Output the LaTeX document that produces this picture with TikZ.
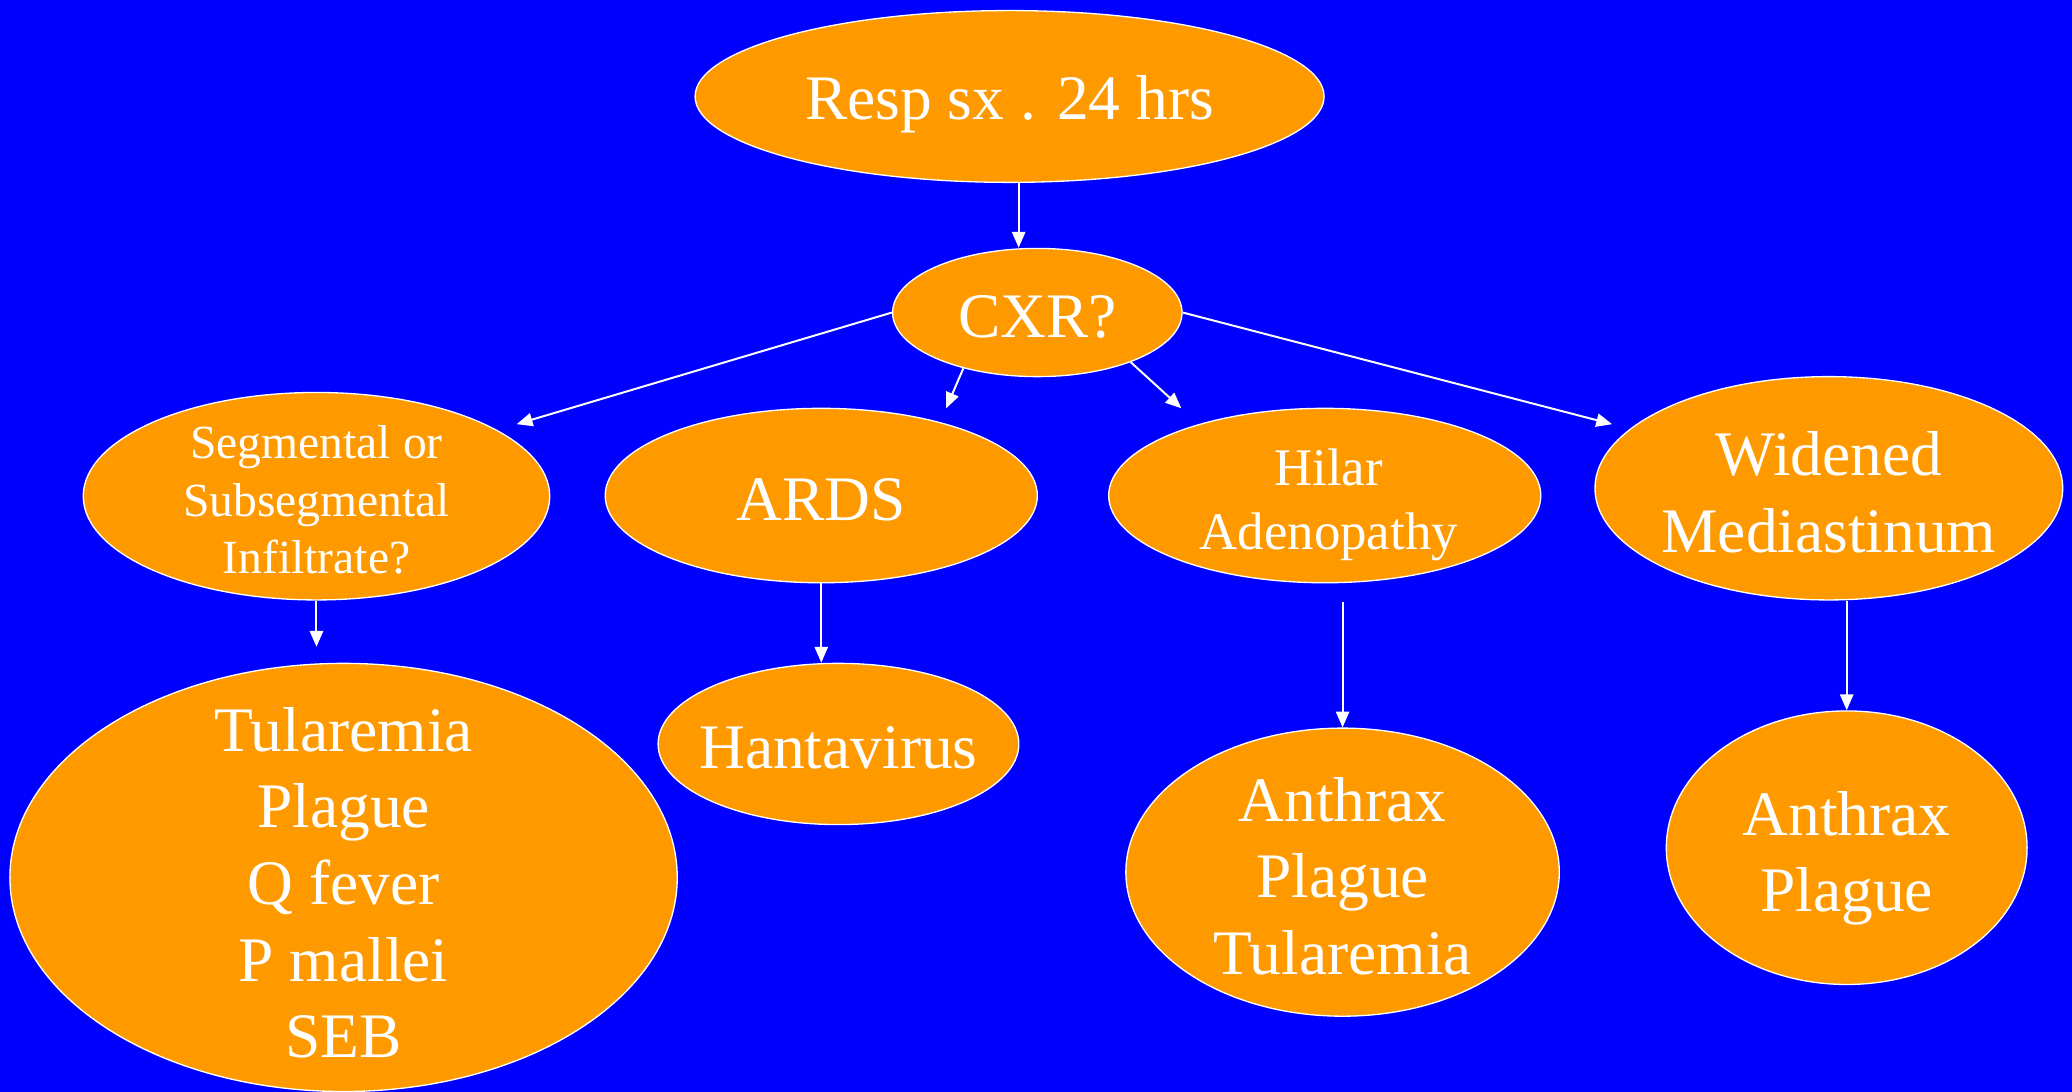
\documentclass[tikz,border=0pt]{standalone}
\usepackage{fontspec}
\setmainfont{Liberation Serif}
\newfontfamily\ovalfont{Liberation Serif}
\usetikzlibrary{shapes.geometric,arrows.meta}
\definecolor{bgblue}{HTML}{0000FF}
\definecolor{boxorange}{HTML}{FF9900}
\begin{document}
\begin{tikzpicture}[x=1bp,y=-1bp,
  oval/.style={ellipse, fill=boxorange, draw=white, line width=1bp, inner sep=0pt},
  txt/.style={text=white, align=center, inner sep=0pt},
  link/.style={draw=white, line width=1.5bp,
    -{Triangle[length=12bp,width=10bp]}},
  big/.style={font=\ovalfont\fontsize{48bp}{58bp}\selectfont},
  mid/.style={font=\ovalfont\fontsize{40bp}{48bp}\selectfont},
  small/.style={font=\ovalfont\fontsize{36bp}{43.5bp}\selectfont}]

% background
\fill[bgblue] (0,0) rectangle (1568,826);
\useasboundingbox (0,0) rectangle (1568,826);

% ovals
\node[oval, minimum width=476bp, minimum height=130bp] (resp) at (764,73) {};
\node[oval, minimum width=219bp, minimum height=97bp] (cxr) at (785,236.5) {};
\node[oval, minimum width=353bp, minimum height=157bp] (seg) at (239.5,375.5) {};
\node[oval, minimum width=327bp, minimum height=132bp] (ards) at (621.5,375) {};
\node[oval, minimum width=327bp, minimum height=132bp] (hilar) at (1002.5,375) {};
\node[oval, minimum width=354bp, minimum height=169bp] (wide) at (1384,369.5) {};
\node[oval, minimum width=505bp, minimum height=324bp] (dxseg) at (260,664) {};
\node[oval, minimum width=273bp, minimum height=122bp] (hanta) at (634.5,563) {};
\node[oval, minimum width=328bp, minimum height=218bp] (dxhilar) at (1016,660) {};
\node[oval, minimum width=273bp, minimum height=207bp] (dxwide) at (1397.5,641.5) {};

% labels
\node[txt, big] (resptxt) at ([yshift=-6bp]resp.center) {Resp sx . 24 hrs};
\node[txt, big] (cxrtxt) at ([yshift=-3bp]cxr.center) {CXR?};
\node[txt, small] (segtxt) at ([yshift=-3bp]seg.center) {Segmental or\\Subsegmental\\Infiltrate?};
\node[txt, big] (ardstxt) at ([yshift=-3bp]ards.center) {ARDS};
\node[txt, mid] (hilartxt) at ([xshift=3bp,yshift=-7bp]hilar.center) {Hilar\\Adenopathy};
\node[txt, big] (widetxt) at ([yshift=-3bp]wide.center) {Widened\\Mediastinum};
\node[txt, big] (dxsegtxt) at ([yshift=-4bp]dxseg.center) {Tularemia\\Plague\\Q fever\\P mallei\\SEB};
\node[txt, big] (hantatxt) at ([yshift=-3bp]hanta.center) {Hantavirus};
\node[txt, big] (dxhilartxt) at ([yshift=-3bp]dxhilar.center) {Anthrax\\Plague\\Tularemia};
\node[txt, big] (dxwidetxt) at ([yshift=-8bp]dxwide.center) {Anthrax\\Plague};

% free arrow ends
\coordinate (segtip) at (391,321);
\coordinate (ardstip) at (716,309);
\coordinate (hilartip) at (894,309);
\coordinate (widetip) at (1220,321);

% connectors
\draw[link] (resp.-84) -- (resp.-84 |- cxr.north);
\draw[link] (cxr.west) -- (segtip);
\draw[link] (cxr.217) -- (ardstip);
\draw[link] (cxr.-28) -- (hilartip);
\draw[link] (cxr.east) -- (widetip);

\draw[link, shorten >=12bp] (seg.south) -- (seg.south |- dxseg.north);
\draw[link] (ards.south) -- (ards.south |- hanta.north);
\draw[link, shorten <=14bp] (dxhilar.north |- hilar.south) -- (dxhilar.north);
\draw[link] (dxwide.north |- wide.south) -- (dxwide.north);
\end{tikzpicture}
\end{document}
